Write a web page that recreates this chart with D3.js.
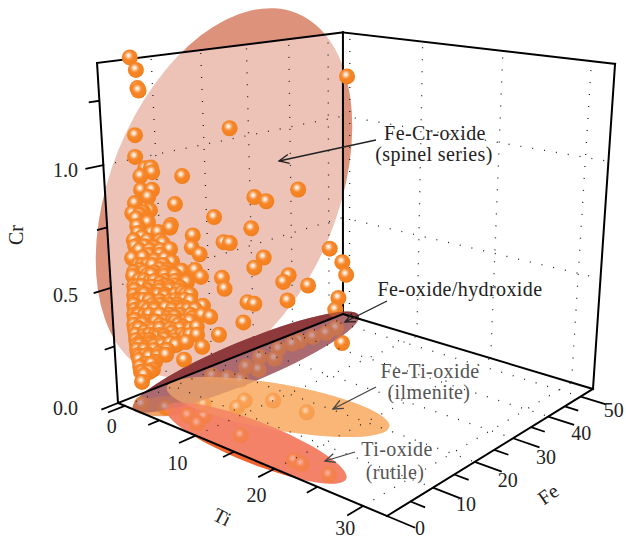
<!DOCTYPE html>
<html>
<head>
<meta charset="utf-8">
<script src="https://cdn.jsdelivr.net/npm/d3@7"></script>
<style>
  html, body { margin: 0; padding: 0; background: #fff; }
  text { font-family: "Liberation Serif", serif; font-size: 20px; fill: #222; }
  .gray { fill: #555; }
</style>
</head>
<body>
<script>
// axis ticks
var tiTicks = [0, 5, 10, 15, 20, 25, 30];
var feTicks = [0, 5, 10, 15, 20, 25, 30, 35, 40, 45, 50];
var crTicks = [0, 0.25, 0.5, 0.75, 1, 1.25];
var tiGrid = [0, 10, 20, 30];
var feGrid = [0, 10, 20, 30, 40, 50];
var crGrid = [0.5, 1];

// [Fe, Cr] of the spinel group, Ti is close to zero for all of them
var tiSpinel = 0.5;
var spinel = [
  [4.0,1.41],[5.0,1.36],[5.1,1.29],[5.3,1.28],[4.2,1.11],[4.0,1.025],[23.4,1.065],[52.3,1.20],
  [6.9,.97],[7.1,.95],[5.8,.972],[4.8,.945],[13.0,.907],[4.8,.889],[6.9,.879],[6.1,.854],
  [3.5,.842],[11.3,.798],[2.9,.804],[3.6,.78],[5.0,.797],[6.3,.798],[5.8,.752],[3.7,.747],
  [10.3,.715],[10.1,.705],[19.4,.70],[14.7,.646],[21.3,.578],[22.7,.566],[14.4,.596],[4.5,.697],
  [3.8,.718],[6.4,.704],[7.7,.70],[8.5,.648],[6.7,.642],[3.1,.667],[9.9,.615],[5.0,.656],[8.0,.662],
  [39.3,.723],[28.6,.741],[31.4,.708],[27.7,.604],[47.5,.393],[51.0,.304],[52.1,.232],[30.5,.453],
  [28.2,.42],[36.6,.33],[35.2,.307],[41.6,.247],[49.9,.128],[36.2,.21],[26.4,.27],[28.0,.251],
  [49.0,.074],[16.0,.556],
  [7.7,.544],[6.0,.529],[3.8,.565],[2.4,.548],[2.4,.622],[4.5,.613],[12.1,.508],[14.9,.494],
  [16.1,.455],[13.1,.452],[20.7,.421],[21.2,.368],[25.3,.182],[16.3,.324],[17.8,.263],[16.0,.285],
  [14.0,.286],[13.1,.329],[12.0,.412],[10.6,.455],[8.5,.419],[6.7,.352],[10.3,.317],[11.9,.261],
  [14.8,.239],[19.6,.167],[12.4,.189],[8.4,.184],[11.8,.113],[8.0,.236],[3.0,.086],[3.5,.113],
  [2.8,.155],[2.5,.209],[15.8,.14],
  [2.5,.505],[2.6,.487],[2.4,.467],[2.5,.446],[2.3,.427],[2.4,.405],[2.2,.385],[2.3,.362],
  [2.1,.343],[2.2,.321],[2.3,.299],[2.3,.276],[2.4,.253],[2.4,.232],[2.7,.186],[2.9,.132],
  [4.0,.496],[4.1,.466],[4.2,.435],[3.8,.403],[4.1,.367],[3.8,.334],[4.1,.298],[3.8,.264],
  [4.1,.228],[3.9,.194],[4.2,.157],[4.3,.12],
  [6.1,.478],[6.4,.436],[5.8,.402],[6.4,.325],[5.7,.294],[6.4,.255],[5.9,.223],[6.5,.182],
  [5.8,.152],[5.3,.122],
  [8.5,.37],[8.8,.323],[8.1,.29],[9.5,.253],[10.1,.215],
  [5.3,.576],[5.5,.502],[7.6,.483],[9.3,.53],[6.8,.586],[8.8,.582],[10.2,.558],[11.0,.366],
  [12.5,.378],[10.5,.39],[9.4,.377],[7.4,.391],[13.3,.214],[10.2,.26],[7.2,.305],[5.2,.363],
  [8.6,.466],[7.1,.436],[5.2,.534],[10.9,.278],[5.0,.255],[5.4,.427],[3.5,.587],[3.2,.50],
  [3.1,.442],[2.9,.38],[2.8,.325],[3.0,.248],
  [5.1,.47],[7.5,.453],[9.6,.44],[11.2,.428],[4.9,.387],[6.3,.377],[9.8,.352],[11.8,.338],
  [14.6,.32],[4.8,.336],[8.2,.312],[9.65,.302],[13.4,.275],[5.0,.278],[7.0,.262],[11.6,.228],
  [14.8,.203],[5.0,.234],[7.4,.213],[10.2,.192],[4.5,.195],[8.1,.165],[5.0,.15],[8.6,.51],
  [10.6,.498],[5.7,.616],[7.9,.603],
  // dense middle of the cloud
  [3.5,.523],[4.5,.516],[6.5,.50],[8.6,.487],[10.7,.473],[5.4,.48],[7.5,.466],[9.6,.451],
  [11.7,.436],[4.4,.457],[6.4,.443],[8.5,.428],[10.6,.414],[12.7,.399],[13.7,.392],[3.3,.437],
  [5.3,.423],[7.4,.408],[9.5,.394],[11.6,.379],[13.7,.364],[4.2,.401],[6.3,.386],[8.4,.371],
  [10.5,.357],[12.6,.342],[3.1,.378],[5.1,.364],[7.2,.349],[9.3,.334],[11.4,.319],[13.6,.303],
  [4.1,.342],[6.1,.327],[8.2,.312],[10.3,.296],[12.5,.28],[3.0,.319],[5.0,.304],[7.1,.288],
  [9.2,.272],[11.3,.256],[13.4,.24],[3.9,.281],[6.0,.265],[8.0,.249],[10.2,.232],[12.3,.215],
  [2.9,.259],[4.9,.243],[7.0,.226],[9.1,.209],[10.8,.195],[3.8,.22],[5.8,.205],[7.9,.188],
  [2.7,.199],[4.7,.183],[6.4,.17],[3.7,.16],[5.1,.149],[3.2,.129],[4.6,.118],[4.3,.581],
  [6.3,.569],[8.4,.556],[2.6,.563],[4.6,.55],[6.6,.537],[8.7,.523],[3.9,.647],[5.9,.635],
  [8.0,.622],[2.9,.693],[5.5,.677],[4.3,.79]
];

// [Ti, Fe, Cr] of the points lying near the floor
var lowCr = [
  [2.3,45.9,.02],[2.5,42.8,.02],[2.2,39.8,.02],[1.9,36.8,.02],[1.9,34.9,.02],[1.8,31.6,.02],
  [3.4,27.9,.02],[1.9,26.8,.02],[4.2,22.7,.02],[2.7,22.2,.02],[4.7,17.8,.02],[3.3,16.9,.02],
  [1.8,15.9,.02],[5.8,41.0,.02],[1.8,1.0,.02],[4.1,2.6,.02],[7.0,2.9,.02],[8.3,4.3,.02],
  [9.0,1.9,.02],[6.3,7.2,.02],[8.6,12.4,.02],[9.2,9.8,.02],[10.7,15.3,.02],[15.0,15.5,.02],
  [13.8,3.3,.02],[20.8,2.6,.02],[21.8,2.4,.02],[24.9,2.5,.02]
];

var w = 626, h = 539;

var tiS = d3.scaleLinear().domain([-1, 32.5]).range([0, 1]);
var feS = d3.scaleLinear().domain([0, 54]).range([0, 1]);
var crS = d3.scaleLinear().domain([0, 1.393]).range([0, 1]);

// perspective camera, box coordinates (0..1) to pixels
var cam = [
  [202.8, 299.4, -29.2, 118],
  [24.7, -20.9, -345.4, 403],
  [-0.1711, 0.217, -0.085, 1]
];
function proj(p) {
  var d = cam[2][0]*p[0] + cam[2][1]*p[1] + cam[2][2]*p[2] + cam[2][3];
  return [
    (cam[0][0]*p[0] + cam[0][1]*p[1] + cam[0][2]*p[2] + cam[0][3]) / d,
    (cam[1][0]*p[0] + cam[1][1]*p[1] + cam[1][2]*p[2] + cam[1][3]) / d
  ];
}

var line3 = d3.line().x(function (p) { return proj(p)[0]; }).y(function (p) { return proj(p)[1]; });

var svg = d3.select('body').append('svg')
  .attr('width', w)
  .attr('height', h)
  .style('display', 'block');

var defs = svg.append('defs');

var grad = defs.append('radialGradient').attr('id', 'ball')
  .attr('cx', 0.42).attr('cy', 0.38).attr('r', 0.6);
[[0, '#fff6ec'], [0.16, '#fde0c8'], [0.32, '#f9a865'], [0.5, '#f68527'], [0.88, '#f58220'], [1, '#ee7c1c']].forEach(function (s) {
  grad.append('stop').attr('offset', s[0]).attr('stop-color', s[1]);
});

// floor and everything off the floor as clip regions
var floor = [[0,0,0],[1,0,0],[1,1,0],[0,1,0]];
defs.append('clipPath').attr('id', 'floor').append('path').attr('d', line3(floor) + 'Z');
defs.append('clipPath').attr('id', 'off').append('path')
  .attr('d', 'M0,0H' + w + 'V' + h + 'H0Z' + line3(floor) + 'Z')
  .attr('clip-rule', 'evenodd');

// hand drawn regions of the original, in pixels
function ellipse(g, e, fill, op, clip) {
  var el = g.append('ellipse')
    .attr('rx', e.a).attr('ry', e.b)
    .attr('transform', 'translate(' + e.x + ',' + e.y + ') rotate(' + e.r + ')')
    .attr('fill', fill)
    .attr('fill-opacity', op);
  if (clip) {
    // clip on a wrapper, the ellipse itself is transformed
    var wrap = g.append('g').attr('clip-path', 'url(#' + clip + ')');
    wrap.node().appendChild(el.node());
  }
}
var spinelShape = {x: 224, y: 193, a: 194, b: 114, r: -68};
var feShape = {x: 246, y: 362, a: 122, b: 21, r: -22.4};
var ilmShape = {x: 278, y: 407, a: 113, b: 23, r: 10};
var tipShape = {x: 168, y: 406, a: 36, b: 10, r: -3};
var rutShape = {x: 256, y: 443, a: 97, b: 21, r: 21.6};

// big ellipse, veiled by the left wall
ellipse(svg, spinelShape, '#dd927b', 1);
svg.append('path')
  .attr('d', line3([[0,0,0],[0,1,0],[0,1,1],[0,0,1]]) + 'Z')
  .attr('fill', '#fff').attr('fill-opacity', 0.45);

// dotted grid on the walls
var wallLines = [];
feGrid.forEach(function (f) { wallLines.push([[0, feS(f), 0], [0, feS(f), 1]]); });
tiGrid.forEach(function (t) { wallLines.push([[tiS(t), 1, 0], [tiS(t), 1, 1]]); });
crGrid.forEach(function (c) {
  wallLines.push([[0, 0, crS(c)], [0, 1, crS(c)]]);
  wallLines.push([[0, 1, crS(c)], [1, 1, crS(c)]]);
});
var floorLines = [];
feGrid.forEach(function (f) { floorLines.push([[0, feS(f), 0], [1, feS(f), 0]]); });
tiGrid.forEach(function (t) { floorLines.push([[tiS(t), 0, 0], [tiS(t), 1, 0]]); });

function dotted(sel) {
  sel.attr('d', line3)
    .attr('fill', 'none')
    .attr('stroke', '#222')
    .attr('stroke-width', 1.3)
    .attr('stroke-dasharray', '1 11');
}
svg.append('g').selectAll('path').data(wallLines).enter().append('path').call(dotted);

// back part of the box
var backEdges = [
  [[0,0,0],[0,0,1]], [[0,0,1],[0,1,1]], [[0,1,1],[0,1,0]],
  [[0,1,1],[1,1,1]], [[1,1,1],[1,1,0]]
];
function edge(sel) {
  sel.attr('d', line3)
    .attr('fill', 'none')
    .attr('stroke', '#000')
    .attr('stroke-width', 2)
    .attr('stroke-linecap', 'square');
}
svg.append('g').selectAll('path').data(backEdges).enter().append('path').call(edge);

// regions under the points
var under = svg.append('g');
ellipse(under, feShape, '#8e3a3c', 1, 'off');
ellipse(under, feShape, '#ab6a70', 1, 'floor');
ellipse(under, ilmShape, '#f6902e', 0.65);
ellipse(under, tipShape, '#e8843a', 0.75);
ellipse(under, rutShape, '#f0622e', 1, 'off');
ellipse(under, rutShape, '#f26f52', 0.85, 'floor');

// points, high ones first
var balls = spinel.map(function (d) { return [tiSpinel, d[0], d[1]]; }).concat(lowCr);
balls.sort(function (a, b) { return b[2] - a[2]; });

svg.append('g').selectAll('circle')
  .data(balls)
  .enter()
  .append('circle')
  .attr('cx', function (d) { return proj([tiS(d[0]), feS(d[1]), crS(d[2])])[0]; })
  .attr('cy', function (d) { return proj([tiS(d[0]), feS(d[1]), crS(d[2])])[1]; })
  .attr('r', 8)
  .attr('fill', 'url(#ball)');

// same regions again as a veil over the points
var over = svg.append('g');
ellipse(over, feShape, '#8e3a3c', 0.6, 'off');
ellipse(over, feShape, '#ab6a70', 0.6, 'floor');
ellipse(over, ilmShape, '#f9b777', 0.55);
ellipse(over, rutShape, '#f48067', 0.6, 'floor');

// floor grid and front part of the box
svg.append('g').selectAll('path').data(floorLines).enter().append('path').call(dotted);
var floorEdges = [
  [[0,0,0],[1,0,0]], [[1,0,0],[1,1,0]], [[1,1,0],[0,1,0]], [[0,1,0],[0,0,0]]
];
svg.append('g').selectAll('path').data(floorEdges).enter().append('path').call(edge);

// ticks
function major(v, step) { return Math.abs(v / step - Math.round(v / step)) < 1e-6; }
function ticks(data, from, to) {
  svg.append('g').selectAll('path').data(data).enter().append('path')
    .attr('d', function (d) { return line3([from(d), to(d)]); })
    .attr('stroke', '#000')
    .attr('stroke-width', 1.8)
    .attr('fill', 'none');
}
ticks(tiTicks,
  function (t) { return [tiS(t), 0, 0]; },
  function (t) { return [tiS(t), major(t, 10) ? -0.06 : -0.04, 0]; });
ticks(feTicks,
  function (f) { return [1, feS(f), 0]; },
  function (f) { return [major(f, 10) ? 1.085 : 1.045, feS(f), 0]; });
ticks(crTicks,
  function (c) { return [0, 0, crS(c)]; },
  function (c) { return [0, major(c, 0.5) ? -0.06 : -0.035, crS(c)]; });

// tick labels
var f1 = d3.format('.1f');
var crLabelDy = d3.scaleOrdinal().domain([0, 0.5, 1]).range([12, 14, 12]);
svg.append('g').selectAll('text').data(crGrid.concat([0])).enter().append('text')
  .attr('x', 78)
  .attr('y', function (c) { return proj([0, 0, crS(c)])[1] + crLabelDy(c); })
  .attr('text-anchor', 'end')
  .text(f1);
var tiLabelDy = d3.scaleOrdinal().domain(tiGrid).range([27, 34, 33, 29.5]);
svg.append('g').selectAll('text').data(tiGrid).enter().append('text')
  .attr('x', function (t) { return proj([tiS(t), 0, 0])[0] - (t === 0 ? 13 : 18); })
  .attr('y', function (t) { return proj([tiS(t), 0, 0])[1] + tiLabelDy(t); })
  .attr('text-anchor', 'middle')
  .text(function (t) { return t; });
var feLabelY = d3.scaleLinear().domain([0, 50]).range([534.5, 416.5]);
svg.append('g').selectAll('text').data(feGrid).enter().append('text')
  .attr('x', function (f) { return proj([1, feS(f), 0])[0] + 33; })
  .attr('y', function (f) { return feLabelY(f); })
  .attr('text-anchor', 'middle')
  .text(function (f) { return f; });

// axis titles
function title(t, x, y, r) {
  svg.append('text')
    .attr('transform', 'translate(' + x + ',' + y + ') rotate(' + r + ')')
    .attr('text-anchor', 'middle')
    .text(t);
}
title('Cr', 23, 235, -90);
title('Ti', 219, 523, 27);
title('Fe', 552, 500, -35);

// notes and arrows
defs.append('marker').attr('id', 'head').attr('markerUnits', 'userSpaceOnUse')
  .attr('markerWidth', 14).attr('markerHeight', 14)
  .attr('refX', 12).attr('refY', 7).attr('orient', 'auto')
  .append('path').attr('d', 'M2,2.5 L12,7 L2,11.5')
  .attr('fill', 'none').attr('stroke', 'context-stroke').attr('stroke-width', 1.3);

function arrow(x1, y1, x2, y2, col) {
  svg.append('line')
    .attr('x1', x1).attr('y1', y1).attr('x2', x2).attr('y2', y2)
    .attr('stroke', col).attr('stroke-width', 1.3)
    .attr('marker-end', 'url(#head)');
}
function note(t, x, y, cls) {
  svg.append('text').attr('x', x).attr('y', y)
    .attr('text-anchor', 'middle')
    .attr('class', cls || null)
    .style('letter-spacing', '0.4px')
    .text(t);
}
arrow(376, 140, 279, 161, '#222');
note('Fe-Cr-oxide', 435, 140);
note('(spinel series)', 434, 161);
arrow(387, 301, 345, 322, '#222');
note('Fe-oxide/hydroxide', 460, 296);
arrow(376, 387, 333, 409, '#444');
note('Fe-Ti-oxide', 430, 378, 'gray');
note('(ilmenite)', 429, 399, 'gray');
arrow(355, 452, 325, 461, '#444');
note('Ti-oxide', 397, 456, 'gray');
note('(rutile)', 395, 479, 'gray');
</script>
</body>
</html>
